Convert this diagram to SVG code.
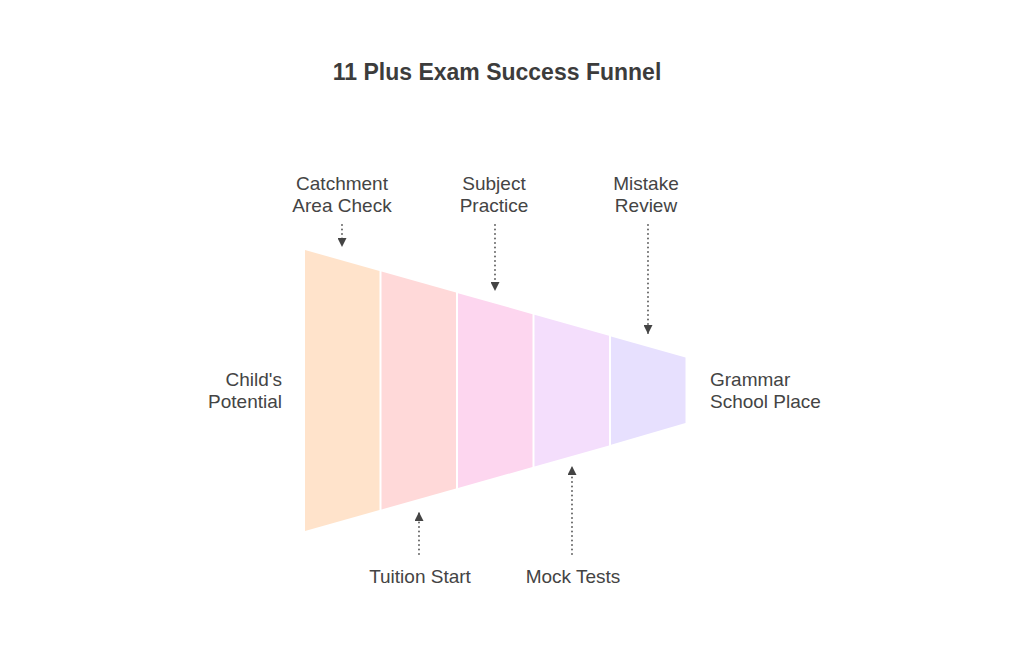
<svg xmlns="http://www.w3.org/2000/svg" width="1024" height="658" viewBox="0 0 1024 658">
<defs>
<style>
.t{font-family:"Liberation Sans",Arial,sans-serif;font-size:19px;fill:#444444}
.title{font-family:"Liberation Sans",Arial,sans-serif;font-size:23px;font-weight:bold;fill:#3c3c3c}
.c{stroke:#555;stroke-width:1.8;stroke-dasharray:0.1 4.4;stroke-linecap:round;fill:none}
.seg{stroke:none}
</style>
<marker id="ah" viewBox="0 0 10 10" refX="10" refY="5" markerWidth="9" markerHeight="9" markerUnits="userSpaceOnUse" orient="auto">
<path d="M0,0 L10,5 L0,10 Z" fill="#444"/>
</marker>
</defs>
<rect width="1024" height="658" fill="#ffffff"/>
<text class="title" x="497" y="80" text-anchor="middle">11 Plus Exam Success Funnel</text>
<g id="funnel">
<g id="stage1"><polygon class="seg" points="305,250 379.5,271 379.5,510 305,531" fill="#FFE3CB"/></g>
<g id="stage2"><polygon class="seg" points="381.5,271.6 456,292.6 456,488.6 381.5,509.6" fill="#FFD9D9"/></g>
<g id="stage3"><polygon class="seg" points="458,293.2 532.5,314.2 532.5,467 458,488" fill="#FDD6EF"/></g>
<g id="stage4"><polygon class="seg" points="534.5,314.8 609,335.8 609,445.4 534.5,466.4" fill="#F4DEFC"/></g>
<g id="stage5"><polygon class="seg" points="611,336.4 685.5,357.4 685.5,423 611,444.8" fill="#E7E0FE"/></g>
</g>
<g id="connectors">
<line class="c" x1="342" y1="225" x2="342" y2="247" marker-end="url(#ah)"/>
<line class="c" x1="495" y1="225" x2="495" y2="291" marker-end="url(#ah)"/>
<line class="c" x1="648" y1="225" x2="648" y2="334" marker-end="url(#ah)"/>
<line class="c" x1="419" y1="554" x2="419" y2="512" marker-end="url(#ah)"/>
<line class="c" x1="572" y1="554" x2="572" y2="466" marker-end="url(#ah)"/>
</g>
<g id="label-catchment"><text class="t" x="342" y="190" text-anchor="middle">Catchment</text><text class="t" x="342" y="212" text-anchor="middle">Area Check</text></g>
<g id="label-subject"><text class="t" x="494" y="190" text-anchor="middle">Subject</text><text class="t" x="494" y="212" text-anchor="middle">Practice</text></g>
<g id="label-mistake"><text class="t" x="646" y="190" text-anchor="middle">Mistake</text><text class="t" x="646" y="212" text-anchor="middle">Review</text></g>
<g id="label-child"><text class="t" x="282" y="386" text-anchor="end">Child's</text><text class="t" x="282" y="408" text-anchor="end">Potential</text></g>
<g id="label-grammar"><text class="t" x="710" y="386">Grammar</text><text class="t" x="710" y="408">School Place</text></g>
<g id="label-tuition"><text class="t" x="420" y="583" text-anchor="middle">Tuition Start</text></g>
<g id="label-mock"><text class="t" x="573" y="583" text-anchor="middle">Mock Tests</text></g>
</svg>
